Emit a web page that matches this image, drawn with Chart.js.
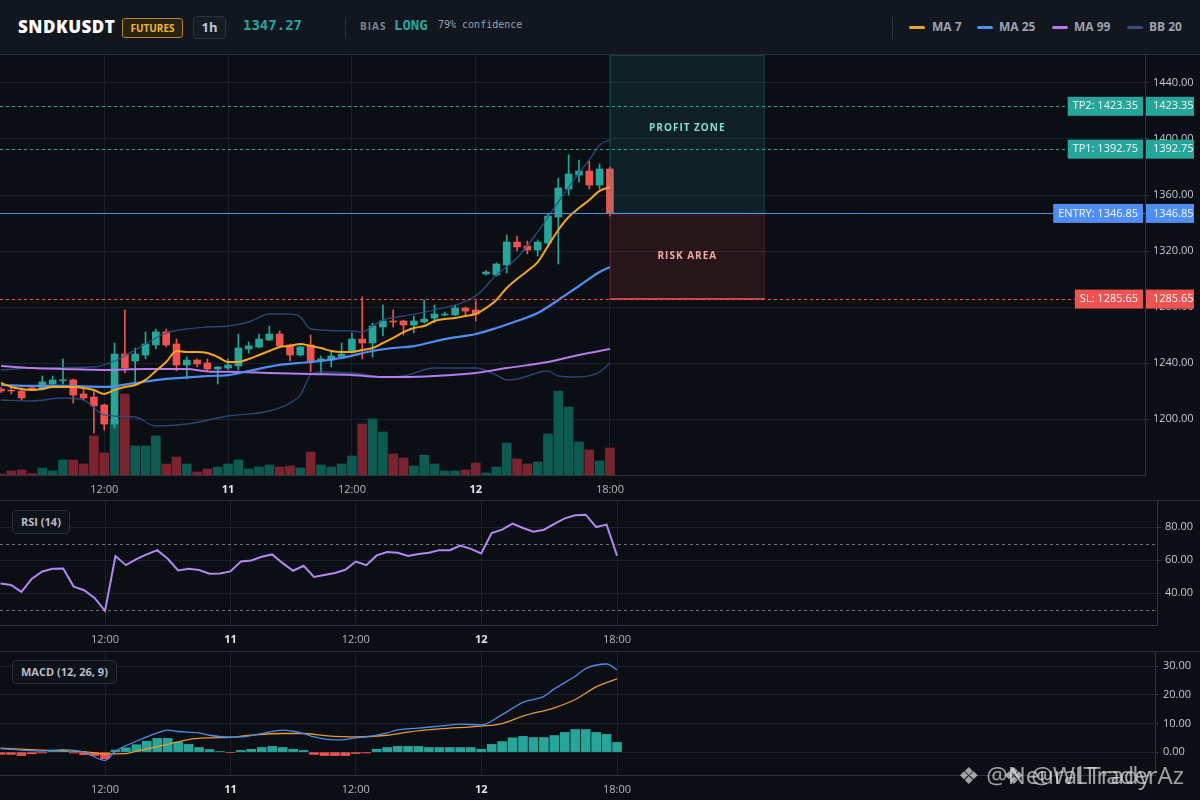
<!DOCTYPE html>
<html>
<head>
<meta charset="utf-8">
<script src="https://cdn.jsdelivr.net/npm/chart.js@4.4.1/dist/chart.umd.min.js"></script>
<style>
  body { margin: 0; background: #0b0e13; font-family: "Open Sans", sans-serif; }
  #app { position: relative; width: 1200px; height: 800px; overflow: hidden; background: #0b0e13; }
  #hdr { position: absolute; left: 0; top: 0; width: 1200px; height: 55px; background: #11161f;
         border-bottom: 1px solid #252c39; box-sizing: border-box; }
  .a { position: absolute; white-space: nowrap; }
  .sym { left: 18px; top: 15px; font-size: 17px; font-weight: 800; color: #fff; letter-spacing: 0.5px; }
  .badge { left: 122px; top: 18px; width: 61px; height: 20px; box-sizing: border-box; border: 1px solid #b8862b;
           border-radius: 3px; background: #2a2213; color: #f2b531; font-size: 10px; font-weight: 700;
           text-align: center; line-height: 18px; }
  .tf { left: 193px; top: 16px; width: 33px; height: 23px; box-sizing: border-box; border: 1px solid #2b3242;
        border-radius: 4px; background: #161b25; color: #c3c8d0; font-size: 13px; font-weight: 700;
        text-align: center; line-height: 21px; }
  .price { left: 243px; top: 17px; font-family: "DejaVu Sans Mono", monospace; font-weight: 700; font-size: 14px; color: #26a69a; }
  .sep { top: 17px; width: 1px; height: 22px; background: #2b3242; }
  .bias { left: 360px; top: 19px; font-size: 10px; font-weight: 700; letter-spacing: 1px; color: #7d8490; }
  .long { left: 394px; top: 17px; font-family: "DejaVu Sans Mono", monospace; font-weight: 700; font-size: 14px; color: #26a69a; }
  .conf { left: 438px; top: 19px; font-family: "DejaVu Sans Mono", monospace; font-size: 10px; color: #9aa0ab; }
  .sw { top: 26px; width: 16px; height: 3px; border-radius: 2px; }
  .lg { top: 18px; font-size: 12px; font-weight: 700; color: #9ca3af; }
  .pane { position: absolute; left: 0; width: 1200px; box-sizing: border-box; }
  .tag { position: absolute; left: 12px; height: 24px; box-sizing: border-box; padding: 0 8px; border: 1px solid #262d3a;
         border-radius: 4px; background: #0e1219; color: #b8bdc7; font-size: 11px; font-weight: 700; line-height: 22px; }
  .wm { position: absolute; top: 758px; font-size: 24px; color: rgba(225,225,225,0.7); white-space: nowrap; }
</style>
</head>
<body>
<div id="app">
  <div id="hdr">
    <span class="a sym">SNDKUSDT</span>
    <span class="a badge">FUTURES</span>
    <span class="a tf">1h</span>
    <span class="a price" id="lastPx"></span>
    <span class="a sep" style="left:345px"></span>
    <span class="a bias">BIAS</span>
    <span class="a long">LONG</span>
    <span class="a conf">79% confidence</span>
    <span class="a sep" style="left:892px"></span>
    <span class="a sw" style="left:909px;background:#f5a524"></span><span class="a lg" style="left:932px">MA 7</span>
    <span class="a sw" style="left:977px;background:#4d8ff5"></span><span class="a lg" style="left:999px">MA 25</span>
    <span class="a sw" style="left:1052px;background:#b57bf0"></span><span class="a lg" style="left:1074px">MA 99</span>
    <span class="a sw" style="left:1127px;background:#2f4f86"></span><span class="a lg" style="left:1149px">BB 20</span>
  </div>
  <div class="pane" style="top:55px;height:445px"><canvas id="mainCv" width="1200" height="445"></canvas></div>
  <div class="pane" style="top:500px;height:150px;border-top:1px solid #252c39"><canvas id="rsiCv" width="1200" height="149"></canvas></div>
  <div class="tag" style="top:510px">RSI (14)</div>
  <div class="pane" style="top:651px;height:149px;border-top:1px solid #252c39"><canvas id="macdCv" width="1200" height="148"></canvas></div>
  <div class="tag" style="top:660px">MACD (12, 26, 9)</div>
  <div class="wm" style="left:958px">&#x2756; @NeuralTraderAz</div>
  <div class="wm" style="left:1003px">&#x2756; @WLTrady</div>
</div>
<script>
// hourly candles, index 0..59
const opens = [1221.4,1220.6,1220.0,1222.2,1221.4,1225.0,1227.3,1227.9,1217.9,1215.7,
  1210.0,1196.4,1246.4,1241.4,1245.7,1252.9,1262.2,1253.6,1238.6,1242.1,
  1240.0,1235.7,1236.4,1237.9,1250.0,1251.4,1256.4,1260.7,1252.9,1245.7,
  1252.9,1241.4,1242.1,1244.3,1247.9,1257.1,1254.3,1265.7,1270.0,1270.0,
  1267.1,1269.3,1272.1,1274.3,1274.3,1279.3,1277.9,1303.6,1302.9,1310.0,
  1326.4,1323.6,1320.7,1325.7,1344.3,1364.3,1374.3,1377.1,1367.1,1378.6];
const highs = [1222.5,1222.9,1222.2,1222.6,1230.7,1230.7,1242.9,1228.6,1222.9,1220.0,
  1210.7,1254.3,1277.9,1250.7,1262.2,1264.3,1264.3,1257.1,1244.3,1242.9,
  1242.9,1237.5,1242.9,1260.7,1255.0,1260.7,1266.4,1262.9,1253.5,1252.2,
  1260.0,1245.0,1247.9,1254.3,1261.4,1287.1,1268.6,1281.4,1277.9,1270.7,
  1273.6,1285.0,1281.4,1276.4,1281.4,1280.0,1284.3,1306.0,1311.5,1331.4,
  1330.7,1327.1,1327.9,1346.4,1372.1,1388.6,1385.0,1384.3,1382.2,1380.0];
const lows = [1219.0,1217.9,1213.6,1220.6,1220.8,1223.6,1225.0,1211.4,1213.6,1190.0,
  1192.1,1193.6,1232.9,1225.7,1242.9,1250.0,1251.4,1234.3,1228.6,1237.2,
  1234.5,1225.0,1235.5,1235.0,1247.1,1250.7,1256.0,1251.5,1241.4,1245.0,
  1233.6,1232.2,1237.2,1243.5,1247.0,1242.9,1244.3,1259.3,1265.7,1260.0,
  1261.4,1268.5,1268.6,1273.6,1274.0,1274.3,1270.0,1302.9,1302.0,1304.3,
  1320.0,1317.9,1316.4,1322.9,1310.7,1360.0,1369.3,1364.3,1364.3,1345.0];
const closes = [1220.0,1220.0,1215.0,1221.4,1226.5,1227.9,1228.0,1217.1,1215.0,1209.3,
  1196.4,1246.4,1236.4,1246.4,1253.6,1262.2,1252.9,1238.6,1242.1,1239.3,
  1235.7,1237.2,1238.6,1250.7,1252.2,1257.1,1260.7,1252.2,1245.7,1251.4,
  1241.4,1242.9,1245.0,1246.4,1257.1,1254.3,1266.4,1270.0,1269.3,1267.1,
  1270.0,1271.4,1275.0,1275.0,1279.3,1277.1,1275.0,1305.0,1310.7,1326.4,
  1322.9,1320.7,1326.4,1345.0,1365.0,1375.0,1377.1,1367.1,1378.6,1347.27];
const volumes = [100,400,500,150,700,400,1500,1500,1100,3900,
  2200,5500,8100,2900,2900,3900,1100,1800,1100,300,
  600,800,1100,1500,600,800,1000,800,900,700,
  2300,1000,800,1100,1900,5100,5600,4300,2100,1700,
  900,2000,1100,400,400,500,1200,200,800,3200,
  1600,1100,1300,4100,8400,6800,3300,2500,1400,2700];

const ma7 = [1225.7,1222.9,1221.4,1220.7,1221.4,1222.9,1222.9,1222.9,1222.2,1220.7,
  1217.9,1220.7,1222.9,1224.3,1227.9,1234.3,1240.7,1248.6,1247.9,1247.9,
  1247.2,1244.3,1240.7,1240.7,1242.9,1245.7,1248.6,1251.4,1252.2,1253.6,
  1252.2,1250.7,1248.6,1247.9,1247.9,1249.3,1250.7,1254.3,1257.9,1262.1,
  1265.0,1266.4,1270.0,1271.4,1272.1,1273.6,1275.0,1279.3,1285.0,1293.6,
  1300.0,1305.7,1312.1,1323.6,1335.0,1344.3,1350.7,1356.4,1362.9,1365.6];
const ma25Idx = [0,3,6,10,13,16,20,22,24,27,30,33,36,38,40,43,46,48,50,52,54,56,58,59];
const ma25Val = [1224.3,1223.6,1223.6,1222.9,1225.7,1228.6,1230.7,1231.4,1234.3,1238.6,1240.7,1243.6,
  1248.6,1250.7,1252.1,1257.1,1260.7,1265.0,1270.0,1275.7,1285.0,1295.0,1305.0,1308.6];
const ma99Idx = [0,3,6,10,14,18,20,23,26,30,34,37,39,42,46,49,53,56,59];
const ma99Val = [1237.9,1236.4,1235.7,1235.0,1235.7,1235.7,1234.0,1233.6,1232.9,1232.1,
  1231.4,1230.0,1230.0,1230.7,1232.9,1236.4,1240.7,1245.7,1250.0];
const bbUpIdx = [0,3,9,11,13,16,18,20,22,24,26,28,29,30,34,35,36,37,39,42,46,48,50,52,54,56,57,58,59];
const bbUpVal = [1235.0,1236.4,1237.1,1241.4,1249.3,1261.4,1264.3,1265.7,1266.4,1269.3,
  1275.0,1275.0,1272.9,1264.3,1262.9,1262.1,1266.4,1270.7,1273.6,1277.9,
  1287.9,1302.9,1315.0,1333.6,1355.0,1375.7,1385.0,1395.7,1399.3];
const bbLoIdx = [0,3,6,8,10,13,15,18,22,26,28,29,30,31,34,35,37,39,42,46,48,49,50,53,54,56,58,59];
const bbLoVal = [1213.6,1212.9,1215.0,1213.6,1202.9,1201.4,1195.0,1196.4,1202.1,1205.7,
  1211.4,1217.1,1231.4,1233.6,1232.9,1232.1,1230.0,1230.7,1236.4,1236.4,
  1231.4,1227.9,1228.6,1234.3,1230.7,1230.0,1233.6,1240.0];

const rsiVals = [45.7,44.9,40.7,48.7,53.1,54.7,54.9,43.9,41.7,37.0,
  29.2,62.4,56.9,60.6,63.4,66.0,60.8,53.7,54.7,53.9,
  51.7,51.9,53.1,59.1,59.7,62.0,63.4,58.1,53.5,56.5,
  49.7,50.9,52.1,54.1,59.1,56.9,62.8,64.8,64.4,62.4,
  63.6,64.4,66.0,66.0,68.8,66.8,64.0,76.4,78.4,82.1,
  79.4,77.2,78.4,81.9,85.3,87.1,87.5,80.0,81.5,62.6];
const rsiGuides = [70, 30];

const macdIdx = [0,2,4,6,8,10,11,13,15,16,17,19,20,22,23,25,27,28,29,30,32,33,34,35,37,38,40,42,44,46,48,50,52,53,55,56,58,59];
const macdVal = [1.2,0.7,0.35,0.9,0,-2.9,0.35,3.8,6.7,7.7,7.2,6.7,5.9,5.2,5.3,6.5,7.7,7.3,6.5,5.3,
  4.3,4.4,5.0,5.3,6.7,7.8,8.4,9.1,9.8,9.5,13.1,17.4,19.5,22.1,26.5,29.2,30.8,28.8];
const sigIdx = [0,4,8,10,12,13,16,18,20,22,24,27,29,31,34,37,39,42,46,48,50,53,55,57,59];
const sigVal = [1.4,0.7,0.2,-0.6,-0.5,0.35,2.7,4.4,5.0,5.2,5.9,6.5,6.5,5.8,5.3,5.9,7.0,8.1,9.1,10.0,
  12.6,15.5,18.4,22.8,25.6];
const macdHist = [-0.8,-0.8,-1.2,-0.6,-0.3,0.3,0.3,-0.3,-0.9,-1.2,
  -2.3,0.7,1.5,2.6,3.8,4.8,4.8,3.5,2.7,1.6,
  0.9,0.2,-0.2,0.6,1.0,1.6,2.0,1.6,1.0,0.6,
  -0.8,-1.2,-1.2,-1.2,-0.5,-0.3,1.0,1.6,2.0,2.0,
  2.0,1.6,1.6,1.6,1.6,1.6,1.0,2.7,3.7,5.0,
  5.5,5.1,5.1,5.8,6.9,7.9,7.9,6.9,6.2,3.4];

const tickIdx = [10, 22, 34, 46, 59];
const tickText = ['12:00', '11', '12:00', '12', '18:00'];
const priceTicks = [1200, 1240, 1280, 1320, 1360, 1400, 1440];
const rsiTicks = [40, 60, 80];
const macdTicks = [0, 10, 20, 30];

const levelNames = ['TP2', 'TP1', 'ENTRY', 'SL'];
const levelPrices = [1423.35, 1392.75, 1346.85, 1285.65];
const zoneStart = 59, zoneEnd = 74;

const UP = '#26a69a', DOWN = '#ef5350';
const GRID = '#1b212c', AXIS = '#2c3442';
const levelColors = [UP, UP, '#4f8ef7', DOWN];

Chart.defaults.font.family = '"Open Sans", sans-serif';
Chart.defaults.animation = false;
Chart.defaults.plugins.legend.display = false;
Chart.defaults.plugins.tooltip.enabled = false;

document.getElementById('lastPx').textContent = closes[closes.length - 1].toFixed(2);

const pts = (idx, val) => idx.map((x, k) => ({x: x, y: val[k]}));
const candleCol = opens.map((o, i) => closes[i] >= o ? UP : DOWN);
const volCol = opens.map((o, i) => closes[i] >= o ? '#0d5a50' : '#7c2330');
const isDay = c => {
  if (!c || !c.tick) return false;
  const k = tickIdx.indexOf(c.tick.value);
  return k >= 0 && !tickText[k].includes(':');
};

function timeAxis(min, max) {
  return {
    type: 'linear', min: min, max: max, offset: false,
    grid: {color: GRID, drawTicks: false, offset: false},
    border: {color: AXIS},
    afterBuildTicks: s => { s.ticks = tickIdx.map(v => ({value: v})); },
    afterFit: s => { s.height = 25; s.paddingLeft = 0; s.paddingRight = 0; },
    ticks: {
      padding: 8, autoSkip: false, maxRotation: 0,
      callback: v => tickText[tickIdx.indexOf(v)],
      color: c => isDay(c) ? '#e3e6eb' : '#b3b8c1',
      font: c => ({size: 11, weight: isDay(c) ? '700' : '400'})
    }
  };
}

function valueAxis(min, max, ticks, width) {
  return {
    position: 'right', min: min, max: max,
    grid: {color: GRID, tickLength: 4, tickColor: AXIS},
    border: {color: AXIS},
    afterBuildTicks: s => { s.ticks = ticks.map(v => ({value: v})); },
    // keep the plot flush with the pane top: no room reserved for edge labels
    afterFit: s => { s.width = width; s.paddingTop = 0; s.paddingBottom = 0; },
    ticks: {padding: 4, color: '#c3c7cf', font: {size: 11}, callback: v => v.toFixed(2)}
  };
}

function lineSet(data, color, width, order) {
  return {type: 'line', data: data, borderColor: color, borderWidth: width, pointRadius: 0,
          cubicInterpolationMode: 'monotone', fill: false, order: order, yAxisID: 'y'};
}

// zones, level lines and their price tags
const tradePlan = {
  id: 'tradePlan',
  afterDatasetsDraw(chart) {
    const {ctx, chartArea: a, scales: {x, y}} = chart;
    const x0 = x.getPixelForValue(zoneStart), x1 = x.getPixelForValue(zoneEnd);
    const yEntry = y.getPixelForValue(levelPrices[2]);
    const ySl = y.getPixelForValue(levelPrices[3]);
    ctx.save();
    ctx.fillStyle = 'rgba(38,166,154,0.13)';
    ctx.fillRect(x0, a.top, x1 - x0, yEntry - a.top);
    ctx.fillStyle = 'rgba(239,83,80,0.12)';
    ctx.fillRect(x0, yEntry, x1 - x0, ySl - yEntry);
    ctx.strokeStyle = 'rgba(38,166,154,0.25)';
    ctx.lineWidth = 1;
    ctx.strokeRect(x0 + 0.5, a.top + 0.5, x1 - x0 - 1, yEntry - a.top - 1);
    ctx.strokeStyle = 'rgba(239,83,80,0.22)';
    ctx.strokeRect(x0 + 0.5, yEntry + 0.5, x1 - x0 - 1, ySl - yEntry - 1);

    levelPrices.forEach((p, k) => {
      const py = Math.round(y.getPixelForValue(p)) + 0.5;
      ctx.strokeStyle = levelColors[k];
      ctx.lineWidth = 1;
      ctx.setLineDash(levelNames[k] === 'ENTRY' ? [] : [3, 3]);
      ctx.beginPath(); ctx.moveTo(a.left, py); ctx.lineTo(a.right, py); ctx.stroke();
    });
    ctx.setLineDash([]);
    ctx.strokeStyle = DOWN;
    ctx.lineWidth = 1.5;
    ctx.beginPath(); ctx.moveTo(x0, ySl); ctx.lineTo(x1, ySl); ctx.stroke();

    const cx = (x0 + x1) / 2;
    ctx.font = '700 10px "Open Sans"';
    ctx.letterSpacing = '1px';
    ctx.textAlign = 'center';
    ctx.textBaseline = 'middle';
    ctx.fillStyle = '#86ddd3';
    ctx.fillText('PROFIT ZONE', cx, (y.getPixelForValue(levelPrices[0]) + y.getPixelForValue(levelPrices[1])) / 2);
    ctx.fillStyle = '#f4a7a6';
    ctx.fillText('RISK AREA', cx, (yEntry + ySl) / 2);
    ctx.restore();
  },
  afterDraw(chart) {
    const {ctx, chartArea: a, scales: {y}} = chart;
    ctx.save();
    ctx.font = '11px "Open Sans"';
    ctx.textBaseline = 'middle';
    levelPrices.forEach((p, k) => {
      const py = y.getPixelForValue(p);
      const txt = levelNames[k] + ': ' + p.toFixed(2);
      const w = ctx.measureText(txt).width + 10;
      ctx.fillStyle = levelColors[k];
      ctx.fillRect(a.right - 2 - w, py - 9.5, w, 19);
      ctx.fillRect(a.right + 1, py - 9.5, 48, 19);
      ctx.fillStyle = '#f4f7f8';
      ctx.textAlign = 'left';
      ctx.fillText(txt, a.right - 2 - w + 5, py);
      ctx.fillText(p.toFixed(2), a.right + 8, py);
    });
    ctx.restore();
  }
};

new Chart(document.getElementById('mainCv'), {
  type: 'bar',
  data: {
    datasets: [
      lineSet(ma7.map((v, i) => ({x: i, y: v})), '#f5a524', 2, 1),
      lineSet(pts(ma25Idx, ma25Val), '#4d8ff5', 2.2, 2),
      lineSet(pts(ma99Idx, ma99Val), '#b57bf0', 2, 3),
      lineSet(pts(bbUpIdx, bbUpVal), 'rgba(47,79,134,0.85)', 1.4, 4),
      lineSet(pts(bbLoIdx, bbLoVal), 'rgba(47,79,134,0.85)', 1.4, 4),
      {data: opens.map((o, i) => ({x: i, y: [o, closes[i]]})), backgroundColor: candleCol,
       barThickness: 7, grouped: false, borderWidth: 0, order: 5, yAxisID: 'y'},
      {data: lows.map((l, i) => ({x: i, y: [l, highs[i]]})), backgroundColor: candleCol,
       barThickness: 1, grouped: false, borderWidth: 0, order: 6, yAxisID: 'y'},
      {data: volumes.map((v, i) => ({x: i, y: v})), backgroundColor: volCol,
       barThickness: 9, grouped: false, borderWidth: 0, order: 7, yAxisID: 'yVol'}
    ]
  },
  options: {
    responsive: false,
    layout: {padding: 0},
    scales: {
      x: timeAxis(-0.1, 110.85),
      y: valueAxis(1160, 1460, priceTicks, 55),
      yVol: {display: false, min: 0, max: 42000}
    }
  },
  plugins: [tradePlan]
});

const rsiGuidePlugin = {
  id: 'rsiGuides',
  beforeDatasetsDraw(chart) {
    const {ctx, chartArea: a, scales: {y}} = chart;
    ctx.save();
    ctx.strokeStyle = '#6f7480';
    ctx.lineWidth = 1;
    ctx.setLineDash([3, 3]);
    rsiGuides.forEach(g => {
      const py = Math.round(y.getPixelForValue(g)) + 0.5;
      ctx.beginPath(); ctx.moveTo(a.left, py); ctx.lineTo(a.right, py); ctx.stroke();
    });
    ctx.restore();
  }
};

new Chart(document.getElementById('rsiCv'), {
  type: 'line',
  data: {
    datasets: [{data: rsiVals.map((v, i) => ({x: i, y: v})), borderColor: '#b387f5', borderWidth: 2,
                pointRadius: 0, tension: 0, fill: false}]
  },
  options: {
    responsive: false,
    layout: {padding: 0},
    scales: {
      x: timeAxis(-0.05, 110.67),
      y: valueAxis(20.6, 95.8, rsiTicks, 43)
    }
  },
  plugins: [rsiGuidePlugin]
});

new Chart(document.getElementById('macdCv'), {
  type: 'bar',
  data: {
    datasets: [
      {type: 'line', data: pts(macdIdx, macdVal), borderColor: '#4a8cf0', borderWidth: 1.3,
       pointRadius: 0, cubicInterpolationMode: 'monotone', order: 1},
      {type: 'line', data: pts(sigIdx, sigVal), borderColor: '#e89a2c', borderWidth: 1.3,
       pointRadius: 0, cubicInterpolationMode: 'monotone', order: 2},
      {data: macdHist.map((v, i) => ({x: i, y: v})), backgroundColor: macdHist.map(v => v >= 0 ? UP : DOWN),
       barThickness: 9, grouped: false, borderWidth: 0, order: 3}
    ]
  },
  options: {
    responsive: false,
    layout: {padding: 0},
    scales: {
      x: timeAxis(-0.05, 110.48),
      y: valueAxis(-8, 35, macdTicks, 45)
    }
  }
});
</script>
</body>
</html>
